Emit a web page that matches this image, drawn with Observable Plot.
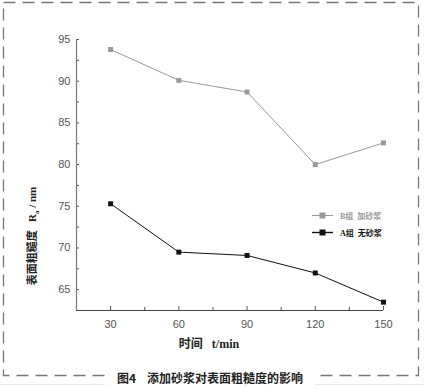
<!DOCTYPE html>
<html>
<head>
<meta charset="utf-8">
<script src="https://cdn.jsdelivr.net/npm/d3@7"></script>
<script src="https://cdn.jsdelivr.net/npm/@observablehq/plot@0.6"></script>
<style>
  html, body { margin: 0; padding: 0; background: #fff; }
  #wrap { position: relative; width: 424px; height: 388px; overflow: hidden; }
  #caption { position: absolute; top: 370px; left: 105px; width: 210px; text-align: center; white-space: pre;
    background: #fff; font: bold 12px "Noto Sans CJK SC", sans-serif; color: #222; line-height: 16px; }
  #sep { position: absolute; top: 384px; left: 0; width: 424px; height: 0; border-top: 1px solid #e8e8e8; }
  #legend { position: absolute; left: 312px; top: 207px; font: bold 8px "Liberation Serif", "Noto Sans CJK SC", serif; white-space: pre; }
  #legend div { display: flex; align-items: center; height: 17px; }
  #legend svg { margin-right: 7px; }
  #ylabel { position: absolute; left: 32px; top: 236px; transform: translate(-50%, -50%) rotate(-90deg);
    white-space: pre; font: bold 11px "Liberation Serif", "Noto Sans CJK SC", serif; color: #222; }
</style>
</head>
<body>
<div id="wrap"><div id="sep"></div></div>
<script>
const times = [30, 60, 90, 120, 150];
const groupB = [93.8, 90.1, 88.7, 80.0, 82.6];   // B组 加砂浆
const groupA = [75.3, 69.5, 69.1, 67.0, 63.5];   // A组 无砂浆
const seriesNames = ["B组  加砂浆", "A组  无砂浆"];
const seriesColors = ["#999999", "#111111"];
const xMajor = [30, 60, 90, 120, 150];
const xMinor = [45, 75, 105, 135];
const yMajor = [65, 70, 75, 80, 85, 90, 95];
const yMinor = [62.5, 67.5, 72.5, 77.5, 82.5, 87.5, 92.5];
const xLabel = "时间\u00a0\u00a0\u00a0t/min";
const yLabel = "表面粗糙度   Rₐ / nm";
const captionText = "图4    添加砂浆对表面粗糙度的影响";

const data = [
  ...times.map((t, i) => ({t, v: groupB[i], s: seriesNames[0]})),
  ...times.map((t, i) => ({t, v: groupA[i], s: seriesNames[1]}))
];

const chart = Plot.plot({
  width: 424,
  height: 388,
  marginLeft: 76,
  marginRight: 41,
  marginTop: 39,
  marginBottom: 78,
  x: {domain: [15, 150]},
  y: {domain: [62.5, 95]},
  color: {domain: seriesNames, range: seriesColors},
  style: {fontFamily: "'Liberation Sans', Arial, sans-serif", fontSize: "11px", color: "#555"},
  marks: [
    Plot.frame({stroke: "#777", strokeWidth: 1.3, strokeDasharray: "12,7",
      insetLeft: -73, insetTop: -37, insetRight: -35, insetBottom: -65}),
    Plot.axisX(xMajor, {tickSize: -4, tickPadding: 14, stroke: "#555", fill: "#555", label: null}),
    Plot.axisX(xMinor, {tickSize: -3, tickFormat: () => "", stroke: "#555", label: null}),
    Plot.axisY(yMajor, {tickSize: -3, tickPadding: 9, stroke: "#555", fill: "#555", label: null}),
    Plot.axisY(yMinor, {tickSize: -3, tickFormat: () => "", stroke: "#555", label: null}),
    Plot.ruleY([62.5], {stroke: "#444", strokeWidth: 1.2}),
    Plot.ruleX([15], {stroke: "#777", strokeWidth: 1.2}),
    Plot.line(data, {x: "t", y: "v", z: "s", stroke: "s", strokeWidth: 1}),
    Plot.dot(data, {x: "t", y: "v", fill: "s", symbol: "square", r: 2.8}),
    Plot.text([xLabel], {frameAnchor: "bottom", dx: -21, dy: 37,
      fontFamily: "'Liberation Serif', 'Noto Sans CJK SC', serif", fontWeight: "bold", fontSize: 12, fill: "#222"})
  ]
});

const wrap = document.getElementById("wrap");
wrap.appendChild(chart);
chart.style.position = "absolute";
chart.style.left = "0";
chart.style.top = "0";

const yl = document.createElement("div");
yl.id = "ylabel";
yl.innerHTML = yLabel.replace("Rₐ", "R<sub style='font-size:7px'>a</sub>");
wrap.appendChild(yl);

const cap = document.createElement("div");
cap.id = "caption";
cap.textContent = captionText;
wrap.appendChild(cap);

const legend = document.createElement("div");
legend.id = "legend";
seriesNames.forEach((name, i) => {
  const row = document.createElement("div");
  row.style.color = seriesColors[i];
  row.innerHTML = `<svg width="21" height="7"><line x1="0" y1="3.5" x2="21" y2="3.5" stroke="${seriesColors[i]}" stroke-width="${i ? 1.4 : 1}"/><rect x="7.5" y="0.5" width="6" height="6" fill="${seriesColors[i]}"/></svg><span>${name}</span>`;
  legend.appendChild(row);
});
wrap.appendChild(legend);
</script>
</body>
</html>
